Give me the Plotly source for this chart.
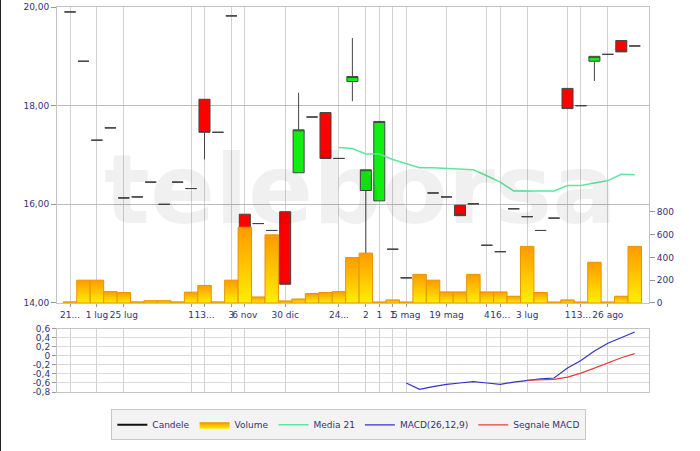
import plotly.graph_objects as go

# ---- data (one slot per trading period) ----
slots = list(range(43))
opens = [19.90, 18.90, 17.30, 17.55, 16.13, 16.15, 16.45, 16.00, 16.45, 16.32,
         18.13, 17.46, 19.82, 15.80, 15.61, 15.47, 15.85, 16.64, 17.77, 17.86,
         16.93, 18.49, 16.28, 16.07, 15.09, 14.51, 14.45, 16.23, 16.15, 15.98,
         16.01, 15.17, 15.04, 15.91, 15.75, 15.47, 15.72, 18.35, 18.00, 18.90,
         19.04, 19.32, 19.21]
highs = [19.90, 18.90, 17.30, 17.55, 16.13, 16.15, 16.45, 16.00, 16.45, 16.32,
         18.13, 17.46, 19.82, 15.80, 15.61, 15.47, 15.85, 18.26, 17.77, 17.86,
         16.93, 19.37, 16.70, 17.68, 15.09, 14.51, 14.45, 16.23, 16.15, 15.98,
         16.01, 15.17, 15.04, 15.91, 15.75, 15.47, 15.72, 18.35, 18.00, 19.00,
         19.04, 19.32, 19.21]
lows = [19.90, 18.90, 17.30, 17.55, 16.13, 16.15, 16.45, 16.00, 16.45, 16.32,
        16.91, 17.46, 19.82, 15.40, 15.61, 15.47, 14.38, 16.64, 17.77, 16.93,
        16.93, 18.09, 14.90, 16.07, 15.09, 14.51, 14.45, 16.23, 16.15, 15.77,
        16.01, 15.17, 15.04, 15.91, 15.75, 15.47, 15.72, 17.94, 18.00, 18.50,
        19.04, 19.09, 19.21]
closes = [19.90, 18.90, 17.30, 17.55, 16.13, 16.15, 16.45, 16.00, 16.45, 16.32,
          17.46, 17.46, 19.82, 15.45, 15.61, 15.47, 14.38, 17.51, 17.77, 16.93,
          16.93, 18.59, 16.70, 17.68, 15.09, 14.51, 14.45, 16.23, 16.15, 15.77,
          16.01, 15.17, 15.04, 15.91, 15.75, 15.47, 15.72, 17.94, 18.00, 19.00,
          19.04, 19.09, 19.21]
volume = [10, 200, 200, 100, 92, 10, 20, 20, 10, 95,
          154, 10, 200, 664, 53, 597, 18, 35, 83, 92,
          100, 398, 437, 9, 27, 9, 251, 200, 97, 97,
          251, 97, 97, 59, 496, 92, 9, 27, 9, 357,
          9, 59, 496]
media21 = [None] * 20 + [17.15, 17.13, 17.02, 17.02, 16.91, 16.82, 16.74, 16.74,
                         16.73, 16.72, 16.70, 16.58, 16.45, 16.27, 16.27, 16.27,
                         16.27, 16.38, 16.38, 16.43, 16.48, 16.61, 16.60]
macd = [None] * 25 + [-0.60, -0.74, -0.68, -0.63, -0.60, -0.57, -0.60, -0.63,
                      -0.58, -0.54, -0.51, -0.49, -0.27, -0.10, 0.11, 0.28,
                      0.41, 0.53]
signal = [None] * 34 + [-0.54, -0.53, -0.52, -0.47, -0.38, -0.27, -0.16, -0.04, 0.05]

tick_pos = [0, 2, 4, 9, 10, 12, 13, 16, 20, 22, 23, 24, 25, 28, 31, 32, 34, 37, 38, 40]
tick_text = ["21...", "1 lug", "25 lug", "1", "13...", "3", "6 nov", "30 dic", "24...",
             "2", "1", "1", "5 mag", "19 mag", "4", "16...", "3 lug", "1", "13...", "26 ago"]
price_ticks = [14, 16, 18, 20]
vol_ticks = [0, 200, 400, 600, 800]
macd_ticks = [0.6, 0.4, 0.2, 0, -0.2, -0.4, -0.6, -0.8]
macd_tick_text = ["0,6", "0,4", "0,2", "0", "-0,2", "-0,4", "-0,6", "-0,8"]

NAVY = "#333377"
fig = go.Figure()

# legend entry for the candles
fig.add_trace(go.Scatter(x=[None], y=[None], mode="lines", name="Candele",
                         line=dict(color="#111111", width=2)))

# volume bars (each with its own vertical gradient)
vol_traces = []
for i, v in zip(slots, volume):
    vol_traces.append(go.Scatter(
        x=[i - 0.5, i - 0.5, i + 0.5, i + 0.5, i - 0.5], y=[0, v, v, 0, 0],
        mode="lines", fill="toself",
        fillgradient=dict(type="vertical", colorscale=[[0, "#ffee00"], [1, "#ff9a00"]]),
        line=dict(color="#e89400", width=1),
        name="Volume", legendgroup="vol", showlegend=(i == 0),
        hoverinfo="skip", xaxis="x", yaxis="y2"))
fig.add_traces(vol_traces)

fig.add_trace(go.Candlestick(
    x=slots, open=opens, high=highs, low=lows, close=closes,
    increasing=dict(fillcolor="#11ee11", line=dict(color="#444444", width=1)),
    decreasing=dict(fillcolor="#ff0000", line=dict(color="#444444", width=1)),
    showlegend=False, name="Candele", xaxis="x", yaxis="y"))

fig.add_trace(go.Scatter(x=slots, y=media21, mode="lines", name="Media 21",
                         line=dict(color="#5ee6a0", width=1.5), xaxis="x", yaxis="y"))
fig.add_trace(go.Scatter(x=slots, y=macd, mode="lines", name="MACD(26,12,9)",
                         line=dict(color="#3333cc", width=1.2), xaxis="x2", yaxis="y3"))
fig.add_trace(go.Scatter(x=slots, y=signal, mode="lines", name="Segnale MACD",
                         line=dict(color="#e83c3c", width=1.2), xaxis="x2", yaxis="y3"))

xr = [-0.97, 43.06]
L, R, T, B, W, H = 57, 51, 7, 59, 700, 451
fig.update_layout(
    width=W, height=H,
    margin=dict(l=L, r=R, t=T, b=B, autoexpand=False),
    paper_bgcolor="white", plot_bgcolor="white",
    separators=",.",
    font=dict(family="DejaVu Sans, Verdana, sans-serif", size=9, color=NAVY),
    boxgap=0.18, boxgroupgap=0,
    xaxis=dict(domain=[0, 1], anchor="y", range=xr, tickmode="array",
               tickvals=tick_pos, ticktext=tick_text, tickangle=0,
               showgrid=True, gridcolor="#d2d2d2", gridwidth=1,
               ticks="outside", ticklen=3, tickcolor="#999999",
               showline=True, linecolor="#c4c4c4", mirror=True,
               zeroline=False, rangeslider=dict(visible=False)),
    yaxis=dict(domain=[0.2312, 1], range=[14, 20], tickvals=price_ticks,
               tickformat=".2f", showgrid=True, gridcolor="#bcbcbc",
               ticks="outside", ticklen=5, tickcolor="#999999",
               showline=True, linecolor="#c4c4c4", mirror=True, zeroline=False,
               ticklabeloverflow="allow"),
    yaxis2=dict(overlaying="y", side="right", range=[0, 2594], tickvals=vol_ticks,
                showgrid=False, zeroline=False, showline=False,
                ticks="outside", ticklen=5, tickcolor="#999999"),
    xaxis2=dict(domain=[0, 1], anchor="y3", matches="x", range=xr, tickmode="array",
                tickvals=tick_pos, showticklabels=False, showgrid=True,
                gridcolor="#d2d2d2", showline=True, linecolor="#c4c4c4",
                mirror=True, zeroline=False, ticks=""),
    yaxis3=dict(domain=[0, 0.164], anchor="x2", range=[-0.8, 0.6], tickvals=macd_ticks,
                ticktext=macd_tick_text, showgrid=True, gridcolor="#dadada",
                ticks="outside", ticklen=4, tickcolor="#999999",
                showline=True, linecolor="#c4c4c4", mirror=True, zeroline=False),
    legend=dict(orientation="h", x=0.493, xanchor="center", y=-0.045, yanchor="top",
                bgcolor="#f3f3f3", bordercolor="#c8c8c8", borderwidth=1,
                font=dict(size=9, color=NAVY), itemwidth=30,
                traceorder="normal"),
    showlegend=True,
    annotations=[dict(text="teleborsa", xref="paper", yref="paper", x=0.512, y=0.525,
                      xanchor="center", yanchor="middle", showarrow=False,
                      font=dict(family="DejaVu Sans", size=96, color="rgba(0,0,0,0.06)",
                                weight="bold"))],
    shapes=[dict(type="line", xref="paper", yref="paper",
                 x0=-(L - 0.5) / (W - L - R), x1=-(L - 0.5) / (W - L - R),
                 y0=-B / (H - T - B), y1=(H - B) / (H - T - B),
                 line=dict(color="#222222", width=1))],
)

fig.write_html("out.html", config={"displayModeBar": False},
               post_script="document.body.style.margin='0';")
